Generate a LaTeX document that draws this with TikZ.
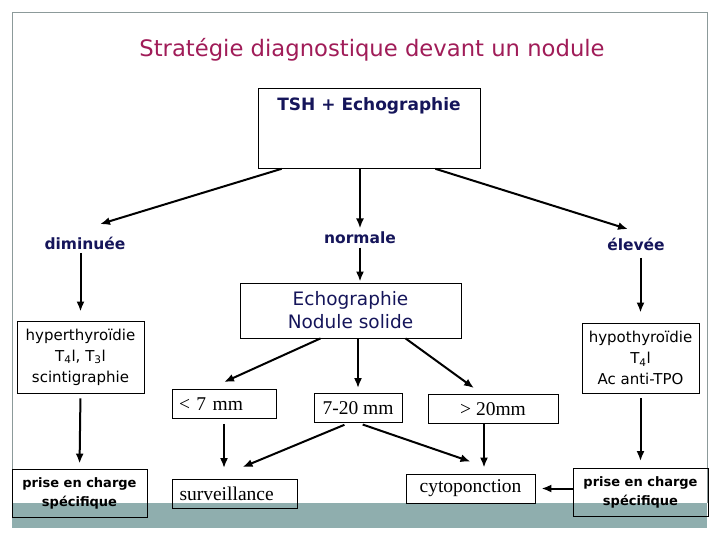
\documentclass[tikz,border=0pt]{standalone}
\usepackage{fontspec}
\setmainfont{DejaVu Sans}
\newfontfamily\romanfont{Liberation Serif}
\usetikzlibrary{arrows.meta,positioning,calc}
\definecolor{titlered}{HTML}{A01C58}
\definecolor{navy}{HTML}{15155A}
\definecolor{bandteal}{HTML}{8FAEAE}
\definecolor{framegray}{HTML}{8C9A9A}

\begin{document}
\begin{tikzpicture}[
  x=1pt, y=-1pt, >={Latex[length=10pt,width=8pt]},
  box/.style={draw, line width=0.8pt, inner sep=0pt, align=center},
  res/.style={font=\fontsize{15.5}{18}\selectfont\bfseries, text=navy},
  info/.style={box, font=\fontsize{15}{21}\selectfont},
  care/.style={box, font=\fontsize{13}{19}\selectfont\bfseries, minimum width=135pt, minimum height=48pt},
  mm/.style={box, font=\romanfont\fontsize{19.5}{22}\selectfont, minimum height=29pt},
  flow/.style={->, line width=2pt},
]
\useasboundingbox (0,0) rectangle (720,540);
% slide frame and bottom band
\fill[bandteal] (12,503) rectangle (707,528);
\draw[framegray, line width=0.8pt] (12,503) -- (12,12) -- (707,12) -- (707,503);
\node[font=\fontsize{22.7}{26}\selectfont, text=titlered] (title) at (372,50) {Stratégie diagnostique devant un nodule};
% first test: TSH and the three results
\node[box, anchor=north, inner ysep=8pt, minimum width=222pt, text height=14pt, text depth=50pt,
  font=\fontsize{17}{20}\selectfont\bfseries, text=navy] (tsh) at (369,88) {TSH + Echographie};
\node[res] (dim) at (85,243) {diminuée};
\node[res] (norm) at (360,238) {normale};
\node[res] (elev) at (636,244) {élevée};
\draw[flow] ([xshift=24pt]tsh.south west) -- ([xshift=15pt,yshift=9pt]dim.north);
\draw[flow] (tsh.south -| norm) -- (norm.north);
\draw[flow] ([xshift=-45pt]tsh.south east) -- ([xshift=-8pt,yshift=5pt]elev.north);
% left column: hyperthyroidism
\node[info, minimum width=127pt, minimum height=72pt] (hyper) at (80.5,357) {hyperthyroïdie\\T\textsubscript{4}l, T\textsubscript{3}l\\scintigraphie};
\node[care] (careL) at (79.5,493) {prise en charge\\spécifique};
\draw[flow, shorten >=9pt] (dim.south -| hyper) -- (hyper.north);
\draw[flow, shorten <=5pt, shorten >=5pt] (hyper.south) -- (careL.north);
% right column: hypothyroidism
\node[info, minimum width=117pt, minimum height=70pt] (hypo) at (640.5,358) {hypothyroïdie\\T\textsubscript{4}l\\Ac anti-TPO};
\node[care] (careR) at (640.5,492.5) {prise en charge\\spécifique};
\draw[flow, shorten <=4pt, shorten >=10pt] (elev.south -| hypo) -- (hypo.north);
\draw[flow, shorten <=5pt, shorten >=7pt] (hypo.south) -- (careR.north);
% middle: echography and nodule size
\node[box, minimum width=221pt, minimum height=55pt, text=navy, font=\fontsize{18.5}{23}\selectfont] (echo) at (350.5,310.5) {Echographie\\Nodule solide};
\draw[flow, shorten >=1pt] (norm.south) -- (echo.north -| norm);
\node[mm, minimum width=104pt, text width=90pt, align=left] (lt7) at (224,404) {< 7 mm};
\node[mm, minimum width=88pt] (mid) at (358,408) {7-20 mm};
\node[mm, minimum width=130pt] (big) at (493,409) {> 20mm};
\draw[flow] ([xshift=-30pt]echo.south) -- ([yshift=7pt]lt7.north);
\draw[flow, shorten >=5pt] (echo.south -| mid) -- (mid.north);
\draw[flow] ([xshift=55pt]echo.south) -- ([xshift=-19pt,yshift=6pt]big.north);
% outcomes
\node[mm, minimum width=125pt, text width=110pt, align=left] (surv) at (234.5,494) {surveillance};
\node[mm, minimum width=129pt] (cyto) at (470.5,488.5) {cytoponction};
\draw[flow, shorten <=5pt, shorten >=11pt] (lt7.south) -- (lt7.south |- surv.north);
\draw[flow, shorten <=5pt] ([xshift=-9pt]mid.south) -- ([xshift=8pt,yshift=12pt]surv.north);
\draw[flow, shorten <=5pt] (mid.south) -- ([yshift=12pt]cyto.north);
\draw[flow, shorten >=6pt] ([xshift=-9pt]big.south) -- ([xshift=-9pt]big.south |- cyto.north);
\draw[flow, shorten >=6pt] (cyto.east -| careR.west) -- (cyto.east);
\end{tikzpicture}
\end{document}
